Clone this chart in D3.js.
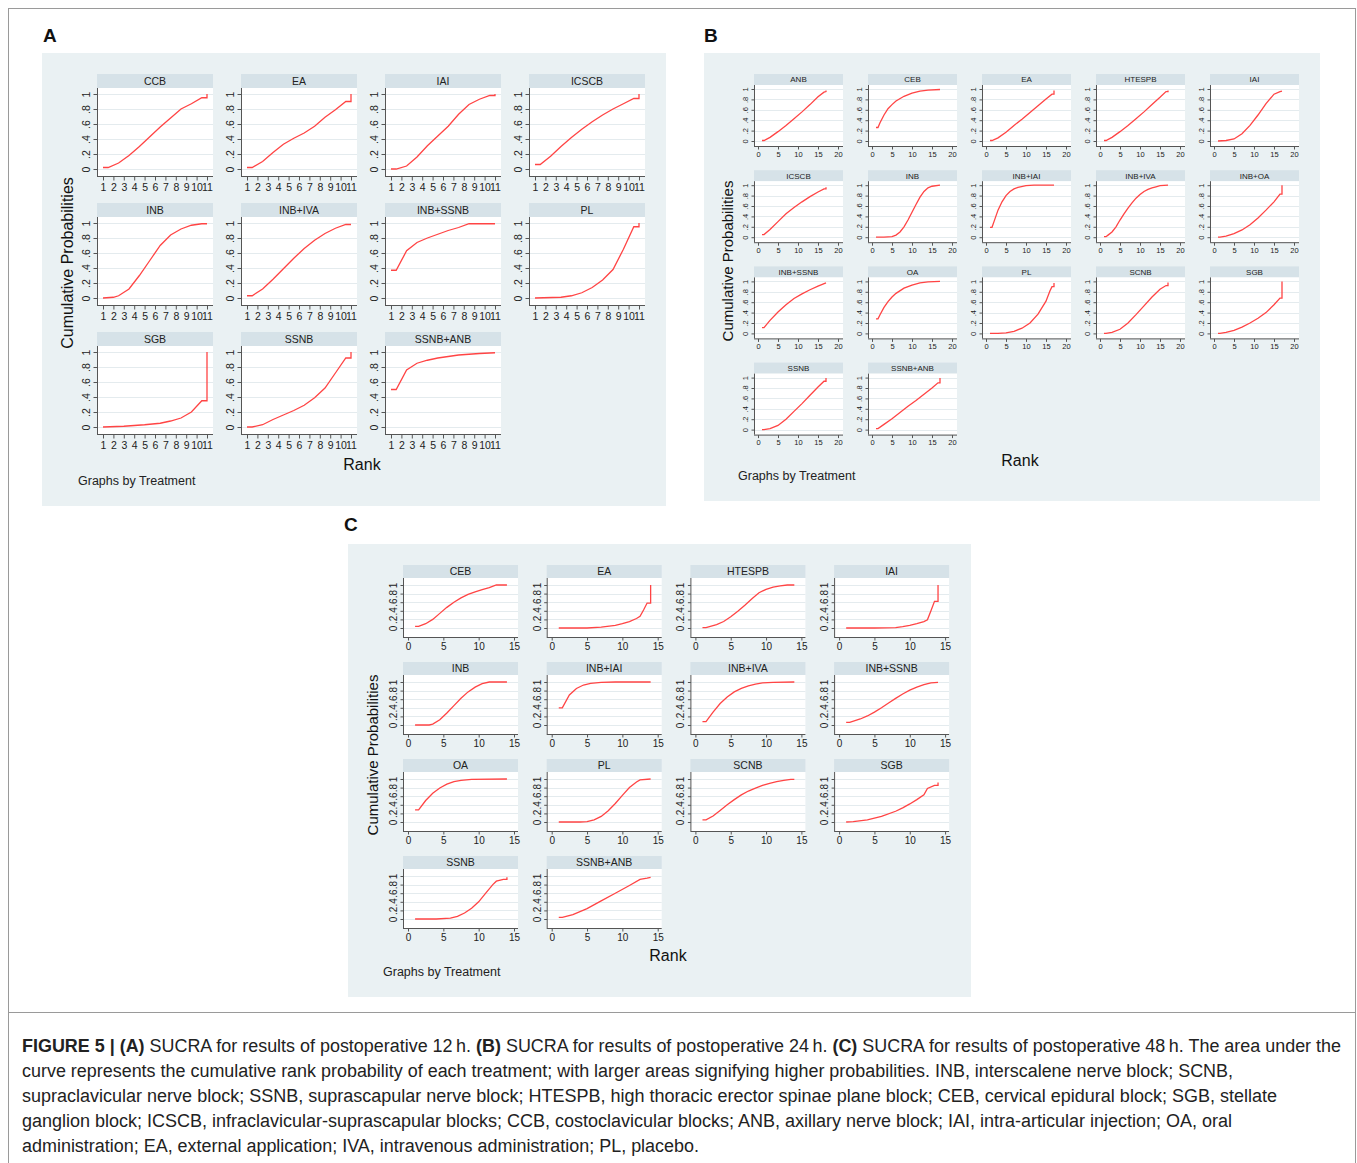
<!DOCTYPE html>
<html>
<head>
<meta charset="utf-8">
<script src="https://cdn.jsdelivr.net/npm/d3@7"></script>
<style>
body { margin: 0; background: #fff; }
text { font-family: Arial, "Liberation Sans", sans-serif; }
</style>
</head>
<body>
<svg id="fig" width="1357" height="1163"></svg>
<script>
// ---- data: cumulative rank probabilities ----
var yTicks = [0, 0.2, 0.4, 0.6, 0.8, 1];
var yTickLabels = ['0', '.2', '.4', '.6', '.8', '1'];

// (A) postoperative 12 h
var treatmentsA = ['CCB', 'EA', 'IAI', 'ICSCB', 'INB', 'INB+IVA', 'INB+SSNB', 'PL', 'SGB', 'SSNB', 'SSNB+ANB'];
var xTicksA = [1, 2, 3, 4, 5, 6, 7, 8, 9, 10, 11];
var curvesA = [
	[[1,.02],[1.5,.02],[2.5,.08],[3.5,.18],[4.5,.3],[5.5,.43],[6.5,.56],[7.5,.68],[8.5,.8],[9.5,.87],[10.5,.95],[11,.95],[11,1]],
	[[1,.02],[1.5,.02],[2.5,.1],[3.5,.22],[4.5,.33],[5.5,.41],[6.5,.48],[7.5,.57],[8.5,.69],[9.5,.79],[10.5,.9],[11,.9],[11,1]],
	[[1,0],[1.5,0],[2.5,.04],[3.5,.16],[4.5,.31],[5.5,.44],[6.5,.57],[7.5,.73],[8.5,.86],[9.5,.93],[10.5,.98],[11,.98],[11,1]],
	[[1,.06],[1.5,.06],[2.5,.17],[3.5,.3],[4.5,.42],[5.5,.53],[6.5,.63],[7.5,.72],[8.5,.8],[9.5,.87],[10.5,.94],[11,.94],[11,1]],
	[[1,0],[2,.01],[2.5,.03],[3.5,.12],[4.5,.3],[5.5,.5],[6.5,.7],[7.5,.84],[8.5,.92],[9.5,.97],[10.5,.99],[11,.99]],
	[[1,.03],[1.5,.03],[2.5,.12],[3.5,.25],[4.5,.39],[5.5,.53],[6.5,.66],[7.5,.77],[8.5,.86],[9.5,.93],[10.5,.98],[11,.98]],
	[[1,.37],[1.5,.37],[2.5,.63],[3.5,.74],[4.5,.8],[5.5,.85],[6.5,.9],[7.5,.94],[8.5,.99],[11,.99]],
	[[1,0],[3.5,.01],[4.5,.03],[5.5,.07],[6.5,.14],[7.5,.24],[8.5,.38],[9.5,.65],[10.5,.95],[11,.95],[11,1]],
	[[1,0],[3,.01],[5,.03],[6.5,.05],[7.5,.08],[8.5,.12],[9.5,.2],[10.5,.35],[11,.35],[11,1]],
	[[1,0],[1.5,0],[2.5,.03],[3.5,.1],[4.5,.16],[5.5,.22],[6.5,.29],[7.5,.39],[8.5,.52],[9.5,.72],[10.5,.92],[11,.92],[11,1]],
	[[1,.5],[1.5,.5],[2.5,.76],[3.5,.85],[4.5,.89],[5.5,.92],[6.5,.94],[7.5,.96],[8.5,.97],[9.5,.98],[11,.99]]
];

// (B) postoperative 24 h
var treatmentsB = ['ANB', 'CEB', 'EA', 'HTESPB', 'IAI', 'ICSCB', 'INB', 'INB+IAI', 'INB+IVA', 'INB+OA', 'INB+SSNB', 'OA', 'PL', 'SCNB', 'SGB', 'SSNB', 'SSNB+ANB'];
var xTicksB = [0, 5, 10, 15, 20];
var curvesB = [
	[[1,.01],[1.5,.01],[3,.07],[5,.18],[7,.3],[9,.43],[11,.56],[13,.7],[15,.85],[16.5,.94],[17,.95],[17,.97]],
	[[1,.26],[1.5,.26],[2,.35],[3,.5],[4,.62],[5,.7],[6,.77],[8,.86],[10,.92],[12,.96],[14,.98],[17,.99]],
	[[1,.01],[1.5,.01],[3,.06],[5,.17],[7,.3],[9,.42],[11,.55],[13,.68],[15,.81],[16.5,.9],[17,.9],[17,.97]],
	[[1,.01],[1.5,.01],[3,.07],[5,.18],[7,.3],[9,.43],[11,.56],[13,.7],[15,.84],[16.5,.95],[17,.95],[17,.97]],
	[[1,0],[3,.01],[5,.04],[7,.14],[9,.3],[11,.5],[13,.72],[15,.9],[16.5,.95],[17,.96]],
	[[1,.05],[1.5,.05],[3,.15],[5,.3],[7,.45],[9,.57],[11,.68],[13,.78],[15,.87],[16.5,.93],[17,.93],[17,.96]],
	[[1,0],[3,0],[5,.01],[6,.04],[7,.1],[8,.2],[9,.33],[10,.48],[11,.63],[12,.77],[13,.88],[14,.95],[15,.98],[17,1]],
	[[1,.19],[1.5,.19],[2,.3],[3,.52],[4,.68],[5,.8],[6,.88],[7,.93],[8,.96],[10,.99],[12,1],[17,1]],
	[[1,.01],[1.5,.01],[2,.04],[3,.1],[4,.2],[5,.33],[6,.45],[7,.56],[8,.66],[9,.75],[10,.82],[11,.88],[12,.92],[13,.95],[14,.97],[15,.99],[17,1]],
	[[1,0],[1.5,0],[3,.02],[5,.07],[7,.14],[9,.24],[11,.37],[13,.52],[15,.68],[16.5,.83],[17,.83],[17,1]],
	[[1,.11],[1.5,.11],[3,.25],[5,.41],[7,.55],[9,.67],[11,.76],[13,.84],[15,.91],[17,.97]],
	[[1,.28],[1.5,.28],[2,.36],[3,.5],[4,.61],[5,.7],[6,.77],[8,.87],[10,.93],[12,.97],[14,.99],[17,1]],
	[[1,0],[3,0],[5,.01],[7,.04],[9,.1],[11,.2],[13,.37],[15,.62],[16,.82],[16.5,.9],[17,.9],[17,.97]],
	[[1,0],[1.5,0],[3,.02],[5,.08],[7,.2],[9,.36],[11,.53],[13,.7],[15,.85],[16.5,.92],[17,.92],[17,.98]],
	[[1,0],[1.5,0],[3,.02],[5,.06],[7,.12],[9,.2],[11,.29],[13,.4],[15,.55],[16.5,.68],[17,.68],[17,1]],
	[[1,0],[1.5,0],[3,.02],[5,.08],[7,.2],[9,.35],[11,.5],[13,.66],[15,.82],[16.5,.93],[17,.93],[17,.99]],
	[[1,.02],[1.5,.02],[3,.1],[5,.21],[7,.33],[9,.45],[11,.56],[13,.68],[15,.8],[16.5,.9],[17,.9],[17,.99]]
];

// (C) postoperative 48 h
var treatmentsC = ['CEB', 'EA', 'HTESPB', 'IAI', 'INB', 'INB+IAI', 'INB+IVA', 'INB+SSNB', 'OA', 'PL', 'SCNB', 'SGB', 'SSNB', 'SSNB+ANB'];
var xTicksC = [0, 5, 10, 15];
var curvesC = [
	[[1,.04],[1.5,.04],[2.5,.1],[3.5,.2],[4.5,.34],[5.5,.48],[6.5,.6],[7.5,.7],[8.5,.78],[9.5,.84],[10.5,.89],[11.5,.94],[12.5,1],[14,1]],
	[[1,0],[3,0],[5,0],[7,.02],[9,.06],[10,.1],[11,.15],[12,.22],[12.5,.27],[13,.42],[13.5,.58],[14,.58],[14,1]],
	[[1,.01],[1.5,.01],[3,.08],[4,.15],[5,.26],[6,.39],[7,.53],[8,.68],[9,.82],[10,.9],[11,.95],[12,.98],[13,1],[14,1]],
	[[1,0],[5,0],[8,.01],[9,.03],[10,.06],[11,.1],[12,.15],[12.5,.19],[13,.4],[13.5,.62],[14,.62],[14,1]],
	[[1,0],[1.5,0],[3,0],[3.5,.02],[4.5,.12],[5.5,.28],[6.5,.45],[7.5,.62],[8.5,.77],[9.5,.88],[10.5,.96],[11.5,1],[14,1]],
	[[1,.4],[1.5,.4],[2.5,.7],[3.5,.85],[4.5,.93],[5.5,.97],[7,.99],[9,1],[14,1]],
	[[1,.08],[1.5,.08],[2.5,.3],[3.5,.5],[4.5,.65],[5.5,.77],[6.5,.85],[7.5,.91],[8.5,.95],[9.5,.98],[11,.99],[14,1]],
	[[1,.06],[1.5,.06],[3,.14],[4,.21],[5,.3],[6,.4],[7,.51],[8,.62],[9,.72],[10,.81],[11,.88],[12,.94],[13,.98],[14,.99]],
	[[1,.28],[1.5,.28],[2.5,.5],[3.5,.67],[4.5,.79],[5.5,.88],[6.5,.94],[7.5,.97],[9,.99],[14,1]],
	[[1,0],[4,0],[5,.01],[6,.05],[7,.13],[8,.26],[9,.43],[10,.62],[11,.8],[12,.93],[12.5,.98],[14,1]],
	[[1,.05],[1.5,.05],[2.5,.14],[3.5,.27],[4.5,.4],[5.5,.52],[6.5,.63],[7.5,.72],[8.5,.79],[9.5,.85],[10.5,.9],[11.5,.94],[12.5,.97],[13.5,.99],[14,.99]],
	[[1,0],[2,.01],[4,.05],[6,.13],[8,.25],[9,.33],[10,.42],[11,.52],[12,.63],[12.5,.78],[13.5,.85],[14,.85],[14,.92]],
	[[1,0],[4,0],[6,.02],[7,.06],[8,.14],[9,.25],[10,.4],[11,.6],[12,.8],[12.5,.88],[13.5,.92],[14,.92],[14,.97]],
	[[1,.04],[1.5,.04],[3,.1],[5,.24],[7,.42],[9,.6],[11,.78],[12.5,.92],[13.5,.95],[14,.97]]
];

var captionLines = [
	[['FIGURE 5 | ', true], ['(A)', true], [' SUCRA for results of postoperative 12\u2009h. ', false], ['(B)', true],
	 [' SUCRA for results of postoperative 24\u2009h. ', false], ['(C)', true], [' SUCRA for results of postoperative 48\u2009h. The area under the', false]],
	[['curve represents the cumulative rank probability of each treatment; with larger areas signifying higher probabilities. INB, interscalene nerve block; SCNB,', false]],
	[['supraclavicular nerve block; SSNB, suprascapular nerve block; HTESPB, high thoracic erector spinae plane block; CEB, cervical epidural block; SGB, stellate', false]],
	[['ganglion block; ICSCB, infraclavicular-suprascapular blocks; CCB, costoclavicular blocks; ANB, axillary nerve block; IAI, intra-articular injection; OA, oral', false]],
	[['administration; EA, external application; IVA, intravenous administration; PL, placebo.', false]]
];

// ---- layout ----
var panelBg = '#eaf1f3';
var stripFill = '#d6e2e8';
var lineColor = '#ff4444';
var axisColor = '#555';
var gridColor = '#e4ebee';

var panels = [
	{ label: 'A', lx: 43, ly: 42, bg: [42, 53, 624, 453], names: treatmentsA, curves: curvesA, xTicks: xTicksA,
	  xDom: [1, 11], cols: 4, left0: 97, colStep: 144, top0: 74, rowStep: 129, hw: 116, hh: 14, ph: 88,
	  xPad: [6, 6], yPad: [7, 6], stripFs: 10.5, tickFs: 10.5, tickLen: 4, ylOff: 11,
	  ytitle: [67, 263], rank: [362, 464], gbt: [78, 481], titleFs: 16, gbtFs: 12.5 },
	{ label: 'B', lx: 704, ly: 42, bg: [704, 53, 616, 448], names: treatmentsB, curves: curvesB, xTicks: xTicksB,
	  xDom: [0, 20], cols: 5, left0: 754, colStep: 114, top0: 74, rowStep: 96.2, hw: 89, hh: 11, ph: 61,
	  xPad: [4, 5], yPad: [5, 4], stripFs: 8, tickFs: 7.5, tickLen: 3, ylOff: 9,
	  ytitle: [728, 261], rank: [1020, 460], gbt: [738, 476], titleFs: 15, gbtFs: 12.5 },
	{ label: 'C', lx: 344, ly: 531, bg: [348, 544, 623, 453], names: treatmentsC, curves: curvesC, xTicks: xTicksC,
	  xDom: [0, 15], cols: 4, left0: 403, colStep: 143.7, top0: 565, rowStep: 97, hw: 115, hh: 13, ph: 59,
	  xPad: [5, 4], yPad: [9, 7], stripFs: 10.5, tickFs: 10, tickLen: 3, ylOff: 10,
	  ytitle: [373, 755], rank: [668, 955], gbt: [383, 972], titleFs: 15, gbtFs: 12.5 }
];

var svg = d3.select('#fig');

// Figure frame and separator above the caption.
svg.append('rect').attr('x', 8.5).attr('y', 8.5).attr('width', 1347).attr('height', 1170)
	.style('fill', 'none').style('stroke', '#9a9a9a');
svg.append('line').attr('x1', 8).attr('x2', 1356).attr('y1', 1012.5).attr('y2', 1012.5)
	.style('stroke', '#9a9a9a');

function drawPanel(p) {
	var g = svg.append('g');
	g.append('rect').attr('x', p.bg[0]).attr('y', p.bg[1]).attr('width', p.bg[2]).attr('height', p.bg[3])
		.style('fill', panelBg);
	svg.append('text').attr('x', p.lx).attr('y', p.ly).text(p.label)
		.style('font-weight', 'bold').style('font-size', '19px').style('fill', '#111');

	p.names.forEach(function(name, i) {
		var col = i % p.cols, row = Math.floor(i / p.cols);
		var left = p.left0 + col * p.colStep;
		var top = p.top0 + row * p.rowStep;
		var plotTop = top + p.hh, bottom = plotTop + p.ph;

		var x = d3.scaleLinear().domain(p.xDom).range([left + p.xPad[0], left + p.hw - p.xPad[1]]);
		var y = d3.scaleLinear().domain([0, 1]).range([bottom - p.yPad[0], plotTop + p.yPad[1]]);

		var cell = g.append('g');
		cell.append('rect').attr('x', left).attr('y', top).attr('width', p.hw).attr('height', p.hh)
			.style('fill', stripFill);
		cell.append('text').attr('x', left + p.hw / 2).attr('y', top + p.hh / 2).attr('dy', '0.36em')
			.attr('text-anchor', 'middle').style('font-size', p.stripFs + 'px').style('fill', '#222')
			.text(name);
		cell.append('rect').attr('x', left).attr('y', plotTop).attr('width', p.hw).attr('height', p.ph)
			.style('fill', '#fff');

		cell.selectAll('.grid').data(yTicks).enter().append('line')
			.attr('x1', left).attr('x2', left + p.hw)
			.attr('y1', d => Math.round(y(d)) + 0.5).attr('y2', d => Math.round(y(d)) + 0.5)
			.style('stroke', gridColor);

		cell.append('path').datum(p.curves[i])
			.attr('d', d3.line().x(d => x(d[0])).y(d => y(d[1])))
			.style('fill', 'none').style('stroke', lineColor).style('stroke-width', 1.3);

		// y axis, Stata-style vertical labels
		var ya = cell.append('g').attr('transform', 'translate(' + (left + 0.5) + ',0)')
			.call(d3.axisLeft(y).tickValues(yTicks).tickFormat((d, k) => yTickLabels[k])
				.tickSize(p.tickLen).tickSizeOuter(0));
		ya.select('.domain').remove();
		ya.selectAll('line').style('stroke', axisColor);
		ya.selectAll('text')
			.attr('transform', 'rotate(-90)').attr('x', 0).attr('y', -p.ylOff).attr('dy', '0.35em')
			.attr('text-anchor', 'middle').style('font-size', p.tickFs + 'px').style('fill', '#222')
			.style('font-family', 'Arial, "Liberation Sans", sans-serif');
		cell.append('line').attr('x1', left + 0.5).attr('x2', left + 0.5).attr('y1', plotTop).attr('y2', bottom)
			.style('stroke', axisColor);

		// x axis
		var xa = cell.append('g').attr('transform', 'translate(0,' + (bottom + 0.5) + ')')
			.call(d3.axisBottom(x).tickValues(p.xTicks).tickFormat(d3.format('d'))
				.tickSize(p.tickLen).tickPadding(p.tickLen === 4 ? 3 : 2).tickSizeOuter(0));
		xa.select('.domain').remove();
		xa.selectAll('line').style('stroke', axisColor);
		xa.selectAll('text').style('font-size', p.tickFs + 'px').style('fill', '#222')
			.style('font-family', 'Arial, "Liberation Sans", sans-serif');
		cell.append('line').attr('x1', left).attr('x2', left + p.hw).attr('y1', bottom + 0.5).attr('y2', bottom + 0.5)
			.style('stroke', axisColor);
	});

	svg.append('text').attr('transform', 'translate(' + p.ytitle[0] + ',' + p.ytitle[1] + ')rotate(-90)')
		.attr('dy', '0.35em').attr('text-anchor', 'middle').style('font-size', p.titleFs + 'px').style('fill', '#111')
		.text('Cumulative Probabilities');
	svg.append('text').attr('x', p.rank[0]).attr('y', p.rank[1]).attr('dy', '0.35em')
		.attr('text-anchor', 'middle').style('font-size', '16px').style('fill', '#111').text('Rank');
	svg.append('text').attr('x', p.gbt[0]).attr('y', p.gbt[1]).attr('dy', '0.35em')
		.style('font-size', p.gbtFs + 'px').style('fill', '#222').text('Graphs by Treatment');
}

panels.forEach(drawPanel);

// Caption
var captionEnds = [1341, 1233, 1277, 1232, 699];
captionLines.forEach(function(parts, i) {
	var t = svg.append('text').attr('x', 22).attr('y', 1052 + i * 25)
		.attr('textLength', captionEnds[i] - 22).attr('lengthAdjust', 'spacingAndGlyphs')
		.style('font-size', '18px').style('fill', '#222');
	parts.forEach(function(part) {
		t.append('tspan').text(part[0]).style('font-weight', part[1] ? 'bold' : 'normal');
	});
});
</script>
</body>
</html>
